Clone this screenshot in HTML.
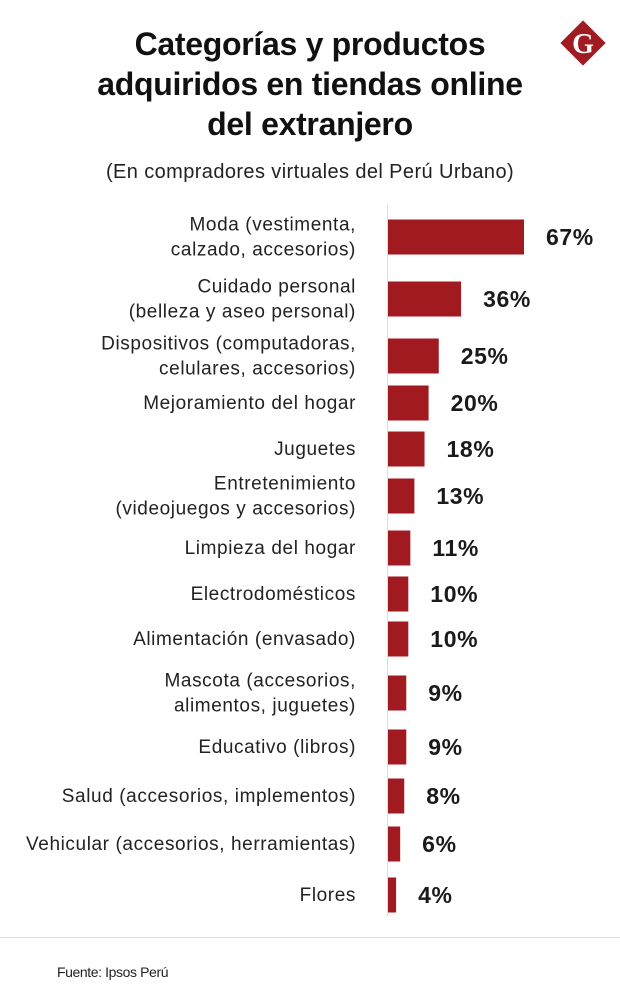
<!DOCTYPE html>
<html><head><meta charset="utf-8"><style>
body{margin:0;background:#fff;width:620px;height:1003px;overflow:hidden;font-family:"Liberation Sans",sans-serif;}
svg{display:block}
</style></head><body>
<svg id="chart" width="620" height="1003">
<g font-weight="bold" font-size="32" fill="#111" text-anchor="middle" letter-spacing="-0.3">
<text x="310" y="55">Categorías y productos</text>
<text x="310" y="95">adquiridos en tiendas online</text>
<text x="310" y="135">del extranjero</text>
</g>
<text x="310" y="178" text-anchor="middle" font-size="20" letter-spacing="0.4" fill="#222">(En compradores virtuales del Perú Urbano)</text>
<g>
<rect x="567" y="27" width="32" height="32" fill="#a01c22" transform="rotate(45 583 43)"/>
<text x="583" y="53" text-anchor="middle" font-family="Liberation Serif,serif" font-weight="bold" font-size="28" fill="#fff">G</text>
</g>
<line x1="387.5" y1="205" x2="387.5" y2="916" stroke="#ddd" stroke-width="1"/>
<g id="bars"></g>
<line x1="0" y1="937.5" x2="620" y2="937.5" stroke="#ddd"/>
<text x="57" y="977" font-size="14" letter-spacing="-0.4" fill="#222">Fuente: Ipsos Perú</text>
</svg>
<script>
const categories=[["Moda (vestimenta,","calzado, accesorios)"],["Cuidado personal","(belleza y aseo personal)"],["Dispositivos (computadoras,","celulares, accesorios)"],["Mejoramiento del hogar"],["Juguetes"],["Entretenimiento","(videojuegos y accesorios)"],["Limpieza del hogar"],["Electrodomésticos"],["Alimentación (envasado)"],["Mascota (accesorios,","alimentos, juguetes)"],["Educativo (libros)"],["Salud (accesorios, implementos)"],["Vehicular (accesorios, herramientas)"],["Flores"]];
const values=[67,36,25,20,18,13,11,10,10,9,9,8,6,4];
const valueLabels=["67%","36%","25%","20%","18%","13%","11%","10%","10%","9%","9%","8%","6%","4%"];
const rowCenters=[237,299,356,403,449,496,548,594,639,693,747,796,844,895];
const x0=388,pxPer=2.03,bh=35;
const xs=v=>v*pxPer;
const g=document.getElementById('bars');
const NS="http://www.w3.org/2000/svg";
values.forEach((v,i)=>{
 const cy=rowCenters[i];
 const r=document.createElementNS(NS,'rect');
 
 
 r.setAttribute('x',x0);r.setAttribute('y',cy-bh/2);r.setAttribute('width',xs(v));r.setAttribute('height',bh);r.setAttribute('fill','#a01a20');
 g.appendChild(r);
 const t=document.createElementNS(NS,'text');
 
 
 t.setAttribute('x',x0+xs(v)+22);t.setAttribute('y',cy+8);t.setAttribute('font-size','23');t.setAttribute('letter-spacing','0.6');t.setAttribute('font-weight','bold');t.setAttribute('fill','#1a1a1a');
 t.textContent=valueLabels[i];g.appendChild(t);
 const lines=categories[i];
 lines.forEach((ln,j)=>{
  const c=document.createElementNS(NS,'text');
  
  
  const y=cy+6+(j-(lines.length-1)/2)*25;
  c.setAttribute('x',356);c.setAttribute('y',y);c.setAttribute('text-anchor','end');c.setAttribute('font-size','19');c.setAttribute('letter-spacing','0.6');c.setAttribute('fill','#222');
  c.textContent=ln;g.appendChild(c);
 });
});
</script>
</body></html>
